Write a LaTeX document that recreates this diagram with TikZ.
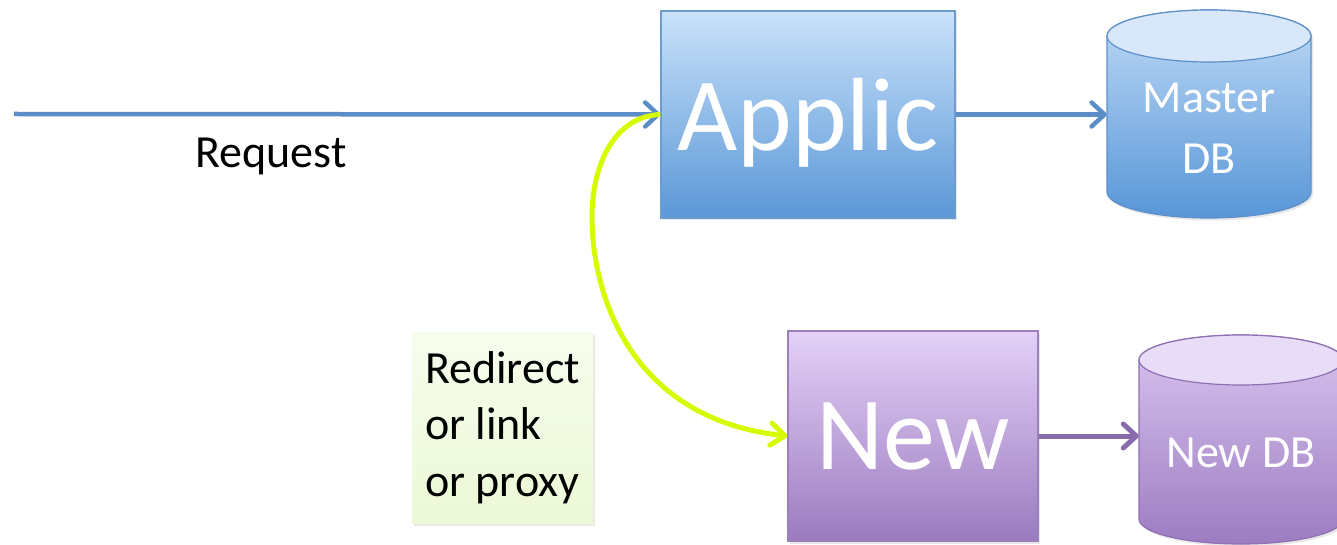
\documentclass[tikz,border=0pt]{standalone}
\usepackage{fontspec}
\setmainfont{Carlito}
\usetikzlibrary{arrows.meta,shadows}

\definecolor{appTop}{HTML}{C9E2FA}
\definecolor{appBot}{HTML}{5B97D7}
\definecolor{appLine}{HTML}{6C9CD0}
\definecolor{flowBlue}{HTML}{5B8EC6}
\definecolor{dbBlueTop}{HTML}{BFDAF6}
\definecolor{dbBlueBot}{HTML}{5896D8}
\definecolor{dbBlueCap}{HTML}{D8E8FA}
\definecolor{dbBlueLine}{HTML}{5D8FC9}
\definecolor{newTop}{HTML}{E4D1F8}
\definecolor{newBot}{HTML}{9B7BBF}
\definecolor{newLine}{HTML}{9C80BE}
\definecolor{flowPurple}{HTML}{8A6CAD}
\definecolor{dbPurpTop}{HTML}{D9C5F0}
\definecolor{dbPurpBot}{HTML}{9D7CC1}
\definecolor{dbPurpCap}{HTML}{E8DDF6}
\definecolor{dbPurpLine}{HTML}{8E70B3}
\definecolor{hopLime}{HTML}{D6FA00}
\definecolor{noteTop}{HTML}{F7FDEE}
\definecolor{noteBot}{HTML}{ECF8D6}

\tikzset{
  softshadow/.style={drop shadow={shadow xshift=2pt,shadow yshift=-2.5pt,opacity=0.18}},
  bigword/.style={font=\fontsize{104}{120}\selectfont, text=white},
  smallword/.style={font=\fontsize{46}{61}\selectfont},
  appbox/.style={rectangle, draw=appLine, line width=1.2pt, top color=appTop, bottom color=appBot,
    softshadow, bigword, minimum width=294, minimum height=207, inner sep=0pt, text depth=0pt},
  newbox/.style={rectangle, draw=newLine, line width=1.2pt, top color=newTop, bottom color=newBot,
    softshadow, bigword, minimum width=250, minimum height=210, inner sep=0pt},
  notebox/.style={rectangle, top color=noteTop, bottom color=noteBot, softshadow,
    font=\fontsize{46}{56.5}\selectfont, align=left, minimum width=181, minimum height=191, inner sep=0pt},
  dbtext/.style={smallword, text=white, align=center, inner sep=0pt},
  dbframe/.style={rectangle, inner sep=0pt, minimum width=204},
  blueflow/.style={draw=flowBlue, line width=4.5pt, -{Straight Barb[length=13pt,width=24pt,round]}},
  purpleflow/.style={draw=flowPurple, line width=5pt, -{Straight Barb[length=13pt,width=24pt,round]}},
  limeflow/.style={draw=hopLime, line width=5pt, -{Straight Barb[length=14pt,width=22pt,round]}},
}

\begin{document}
\begin{tikzpicture}[x=1pt,y=1pt]
\useasboundingbox (0,0) rectangle (1337,544);

% application and new service boxes
\node[appbox] (applic) at (808,429.5) {Applic};
\node[newbox] (new) at (913,108) {New};

% master database cylinder
\path[softshadow, top color=dbBlueTop, bottom color=dbBlueBot, draw=dbBlueLine, line width=1.2pt]
  (1107,508) -- (1107,352) arc[start angle=180, end angle=360, x radius=102, y radius=26]
  -- (1311,508) arc[start angle=0, end angle=180, x radius=102, y radius=26] -- cycle;
\draw[fill=dbBlueCap, draw=dbBlueLine, line width=1.2pt] (1209,508) ellipse [x radius=102, y radius=26];
\node[dbframe, minimum height=208] (mdb) at (1209,430) {};
\node[dbtext] (mdblabel) at (1209,416) {Master\\DB};

% new database cylinder
\path[softshadow, top color=dbPurpTop, bottom color=dbPurpBot, draw=dbPurpLine, line width=1.2pt]
  (1139,184) -- (1139,25) arc[start angle=180, end angle=360, x radius=102, y radius=25]
  -- (1343,184) arc[start angle=0, end angle=180, x radius=102, y radius=25] -- cycle;
\draw[fill=dbPurpCap, draw=dbPurpLine, line width=1.2pt] (1241,184) ellipse [x radius=102, y radius=25];
\node[dbframe, minimum height=209] (ndb) at (1241,104.5) {};
\node[dbtext, anchor=base] (ndblabel) at (1241,77) {New DB};

% note box
\node[notebox] (note) at (502.5,116.5) {Redirect\\or link\\or proxy};

% incoming request
\coordinate (client) at (14,430);
\node[smallword, anchor=base, inner sep=0pt] (reqlabel) at (271,376) {Request};
\draw[blueflow] (client) -- (applic.west);

% database connections
\draw[blueflow] (applic.east) -- (applic.east -| mdb.west);
\draw[purpleflow] (new.east) -- (new.east -| ndb.west);

% redirect from the application to the new service
\draw[limeflow] (applic.west) .. controls (615,428) and (592,380) .. (592,327)
  .. controls (592,250) and (630,125) .. (new.west);
\end{tikzpicture}
\end{document}
